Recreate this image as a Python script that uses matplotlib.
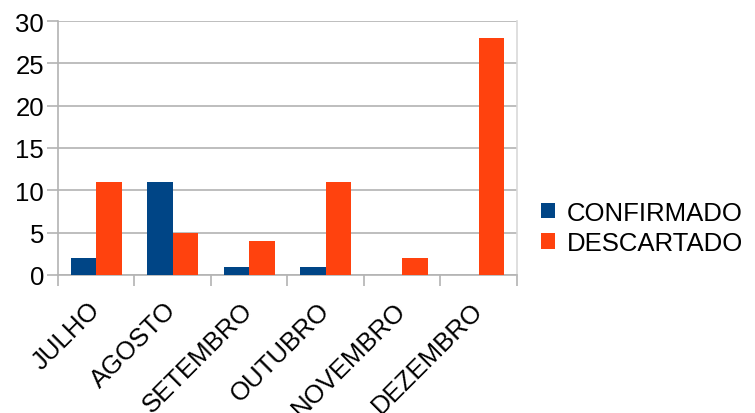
import matplotlib
matplotlib.use("Agg")
import matplotlib.pyplot as plt
import numpy as np

categories = ["JULHO", "AGOSTO", "SETEMBRO", "OUTUBRO", "NOVEMBRO", "DEZEMBRO"]
confirmado = [2, 11, 1, 1, 0, 0]
descartado = [11, 5, 4, 11, 2, 28]
series_names = ["CONFIRMADO", "DESCARTADO"]
yticks = [0, 5, 10, 15, 20, 25, 30]

plt.rcParams['font.family'] = ['Liberation Sans', 'DejaVu Sans']

fig = plt.figure(figsize=(7.55, 4.14), dpi=100)
ax = fig.add_axes([58/755, 1 - 276/414, (517-58)/755, (276-22)/414])

x = np.arange(len(categories))
w = 1/3
ax.bar(x - w/2, confirmado, w, color="#004586", label=series_names[0], zorder=3)
ax.bar(x + w/2, descartado, w, color="#ff420e", label=series_names[1], zorder=3)

ax.set_xlim(-0.5, len(categories) - 0.5)
ax.set_ylim(0, 30)
ax.set_yticks(yticks)
ax.set_yticklabels([str(v) for v in yticks], fontsize=18.5)
ax.yaxis.grid(True, color="#b3b3b3", linewidth=1.2, zorder=0)

# category boundary ticks
ax.set_xticks(np.arange(len(categories) + 1) - 0.5, minor=False)
ax.set_xticklabels([])
ax.tick_params(axis='x', which='major', length=8, color="#b3b3b3", width=1.2)
ax.set_xticks(x, minor=True)
ax.set_xticklabels(categories, minor=True, rotation=45, ha='right', va='center',
                   rotation_mode='anchor', fontsize=18.5)
ax.tick_params(axis='x', which='minor', length=0, pad=22)
ax.tick_params(axis='y', length=8, color="#b3b3b3", width=1.2, pad=2)

for s in ['left', 'bottom']:
    ax.spines[s].set_color("#b3b3b3")
    ax.spines[s].set_linewidth(1.2)
ax.spines['top'].set_visible(False)
ax.spines['right'].set_color("#d9d9d9")
ax.spines['right'].set_linewidth(1.2)

leg = ax.legend(loc='center left', bbox_to_anchor=(1.03, 0.185), frameon=False,
                fontsize=18.5, handlelength=0.55, handleheight=0.55,
                handletextpad=0.45, labelspacing=0.25, borderaxespad=0)

fig.savefig("out.png", dpi=100)
